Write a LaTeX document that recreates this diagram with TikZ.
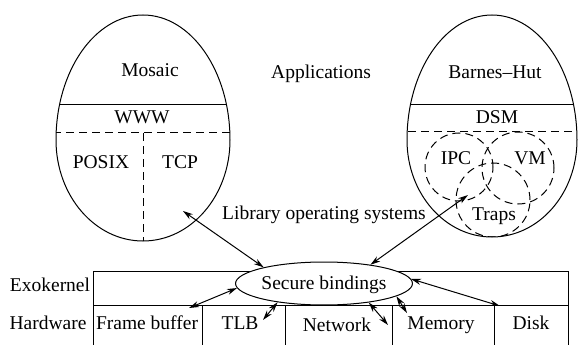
\documentclass[tikz,border=0pt]{standalone}
\usepackage{fontspec}
\setmainfont{Liberation Serif}
\usetikzlibrary{arrows.meta, positioning, shapes.geometric}
\tikzset{
  lbl/.style={font=\fontsize{19.5}{21}\selectfont, inner sep=0pt,
              text height=12.9pt, text depth=0pt},
  egg line/.style={line width=1pt},
  split line/.style={line width=1pt, dash pattern=on 8pt off 5pt},
  bind arrow/.style={{Stealth[length=10pt, width=6pt]}-{Stealth[length=10pt, width=6pt]},
                     line width=1pt},
  bind node/.style={lbl, ellipse, draw, fill=white, line width=1pt,
                    minimum width=134pt, minimum height=43pt},
}

\begin{document}
\begin{tikzpicture}[x=1pt, y=-1pt]
  \useasboundingbox (0,0) rectangle (579,345);
  % left application egg
  \begin{scope}
    \clip (56,140) arc[start angle=180, end angle=0, x radius=87pt, y radius=125pt]
      arc[start angle=0, end angle=-180, x radius=87pt, y radius=101pt] -- cycle;
    \draw[egg line] (40,105) -- (250,105);
    \draw[split line] (40,133) -- (250,133);
    \draw[split line] (143,133) -- (143,250);
  \end{scope}
  \draw[egg line] (56,140) arc[start angle=180, end angle=0, x radius=87pt, y radius=125pt]
    arc[start angle=0, end angle=-180, x radius=87pt, y radius=101pt] -- cycle;
  % right application egg
  \begin{scope}
    \clip (407,140) arc[start angle=180, end angle=0, x radius=85pt, y radius=125pt]
      arc[start angle=0, end angle=-180, x radius=85pt, y radius=97pt] -- cycle;
    \draw[egg line] (395,105) -- (590,105);
    \draw[split line] (395,132) -- (590,132);
    \draw[split line] (459,167) circle[radius=34pt];
    \draw[split line] (518,168) circle[radius=36pt];
    \draw[split line] (493,200) circle[radius=37pt];
  \end{scope}
  \draw[egg line] (407,140) arc[start angle=180, end angle=0, x radius=85pt, y radius=125pt]
    arc[start angle=0, end angle=-180, x radius=85pt, y radius=97pt] -- cycle;

  \node[lbl] (mosaic) at (150,70) {Mosaic};
  \node[lbl] (apps) at (321,72) {Applications};
  \node[lbl] (barnes) at (495,72) {Barnes--Hut};
  \node[lbl] (www) at (142,117) {WWW};
  \node[lbl] (dsm) at (497,117) {DSM};
  \node[lbl] (posix) at (101,162) {POSIX};
  \node[lbl] (tcp) at (180,162) {TCP};
  \node[lbl] (ipc) at (456,158) {IPC};
  \node[lbl] (vm) at (530,158) {VM};
  \node[lbl] (traps) at (494,214) {Traps};
  \node[lbl] (libos) at (324,213) {Library operating systems};

  % exokernel and hardware
  \draw[egg line] (93,345) -- (93,271) -- (568,271) -- (568,345);
  \draw[egg line] (93,305) -- (568,305);
  \foreach \x in {202,285,392,494}
    \draw[egg line] (\x,305) -- (\x,345);
  \node[lbl] (exo) at (50,285) {Exokernel};
  \node[lbl] (hw) at (48,323) {Hardware};
  \node[lbl] (fb) at (147,323) {Frame buffer};
  \node[lbl] (tlb) at (240,323) {TLB};
  \node[lbl] (net) at (337,325) {Network};
  \node[lbl] (mem) at (441,323) {Memory};
  \node[lbl] (disk) at (531,323) {Disk};
  \node[bind node] (sb) at (324,283.5) {Secure bindings};

  \coordinate (mosaicEnd) at (183,211);
  \coordinate (trapsEnd) at (468,195);
  \coordinate (fbEnd) at (189,308);
  \coordinate (tlbEnd) at (263,320);
  \coordinate (netEnd) at (388,325);
  \coordinate (memEnd) at (407,313);
  \coordinate (diskEnd) at (500,306);
  \draw[bind arrow] (mosaicEnd) -- (sb.165);
  \draw[bind arrow] (trapsEnd) -- (sb.22);
  \draw[bind arrow] (fbEnd) -- (sb.183);
  \draw[bind arrow] (tlbEnd) -- (sb.202);
  \draw[bind arrow] (netEnd) -- (sb.337);
  \draw[bind arrow] (memEnd) -- (sb.350);
  \draw[bind arrow] (diskEnd) -- (sb.3);
\end{tikzpicture}
\end{document}
